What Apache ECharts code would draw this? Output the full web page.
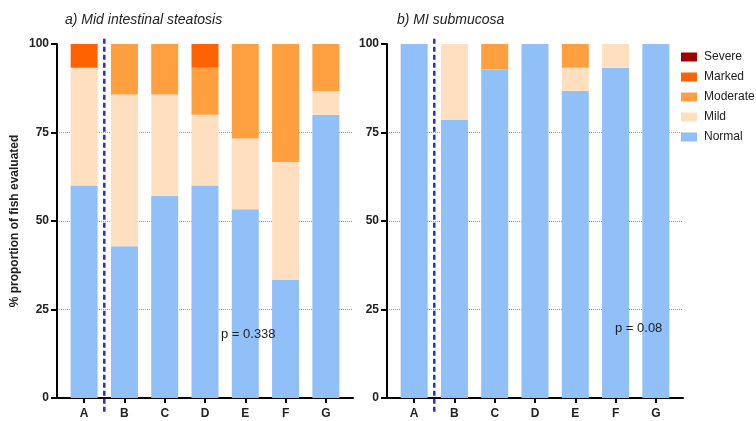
<!DOCTYPE html>
<html>
<head>
<meta charset="utf-8">
<script src="https://cdn.jsdelivr.net/npm/echarts@6/dist/echarts.min.js"></script>
<style>
  html, body { margin: 0; padding: 0; background: #fff; }
  #chart { width: 756px; height: 421px; }
</style>
</head>
<body>
<div id="chart"></div>
<script>
// categories (groups) and score levels
var groups = ['A', 'B', 'C', 'D', 'E', 'F', 'G'];
var levels = ['Normal', 'Mild', 'Moderate', 'Marked', 'Severe'];
var legendOrder = ['Severe', 'Marked', 'Moderate', 'Mild', 'Normal'];
var yTicks = [0, 25, 50, 75, 100];

// a) Mid intestinal steatosis, % of fish per level
var steatNormal   = [60, 42.9, 57.1, 60, 53.3, 33.3, 80];
var steatMild     = [33.3, 42.8, 28.6, 20, 20, 33.4, 6.7];
var steatModerate = [0, 14.3, 14.3, 13.3, 26.7, 33.3, 13.3];
var steatMarked   = [6.7, 0, 0, 6.7, 0, 0, 0];
var steatSevere   = [0, 0, 0, 0, 0, 0, 0];

// b) MI submucosa
var subNormal   = [100, 78.6, 92.9, 100, 86.7, 93.3, 100];
var subMild     = [0, 21.4, 0, 0, 6.6, 6.7, 0];
var subModerate = [0, 0, 7.1, 0, 6.7, 0, 0];
var subMarked   = [0, 0, 0, 0, 0, 0, 0];
var subSevere   = [0, 0, 0, 0, 0, 0, 0];

var pLeft = 'p = 0.338';
var pRight = 'p = 0.08';

// dashed separator between A and B (in category units)
var dividerAt = 0.5;
var dividerSpan = [-3.9, 102];

var colors = {
  Normal: '#91BFF8',
  Mild: '#FFDFC0',
  Moderate: '#FFA040',
  Marked: '#FF6200',
  Severe: '#A00000'
};

var textColor = '#222';
// axis frame is a bit wider than the bar bands
var pad = 0.174;

function frameX(gi) {
  return {
    gridIndex: gi, type: 'value', min: -0.5 - pad, max: groups.length - 0.5 + pad,
    axisLine: { show: true, onZero: false, lineStyle: { color: '#000', width: 2 } },
    axisTick: { show: false }, axisLabel: { show: false }, splitLine: { show: false }
  };
}
function barX(gi) {
  return {
    gridIndex: gi, type: 'category', data: groups,
    axisLine: { show: false },
    axisTick: { show: true, alignWithLabel: true, length: 5, lineStyle: { color: '#000', width: 2 } },
    axisLabel: { color: textColor, fontWeight: 'bold', fontSize: 12, margin: 10, fontFamily: 'Liberation Sans' }
  };
}
function frameY(gi, withName) {
  return {
    gridIndex: gi, type: 'value', min: yTicks[0], max: yTicks[yTicks.length - 1], interval: yTicks[1] - yTicks[0],
    name: withName ? '% proportion of fish evaluated' : '',
    nameLocation: 'middle', nameGap: 36,
    nameTextStyle: { color: textColor, fontWeight: 'bold', fontSize: 12, fontFamily: 'Liberation Sans' },
    axisLine: { show: true, onZero: false, lineStyle: { color: '#000', width: 2 } },
    axisTick: { show: true, length: 6, lineStyle: { color: '#000', width: 2 } },
    axisLabel: { color: textColor, fontWeight: 'bold', fontSize: 12, margin: 8, fontFamily: 'Liberation Sans' },
    splitLine: { show: true, showMaxLine: false, lineStyle: { color: '#999', type: 'dotted', width: 1 } }
  };
}
function barY(gi) {
  return { gridIndex: gi, type: 'value', min: 0, max: 100, show: false, splitLine: { show: false } };
}

function stack(name, values, axisIdx, stackId) {
  return {
    name: name, type: 'bar', stack: stackId, data: values,
    xAxisIndex: axisIdx, yAxisIndex: axisIdx, barWidth: 27,
    itemStyle: { color: colors[name] }, silent: true
  };
}
function divider(axisIdx) {
  return {
    name: 'divider', type: 'line', xAxisIndex: axisIdx, yAxisIndex: axisIdx,
    data: [[dividerAt, dividerSpan[0]], [dividerAt, dividerSpan[1]]],
    symbol: 'none', clip: false, silent: true,
    lineStyle: { color: '#2B2BD6', width: 2.5, type: [5, 3] }
  };
}

var steat = [steatNormal, steatMild, steatModerate, steatMarked, steatSevere];
var sub = [subNormal, subMild, subModerate, subMarked, subSevere];

var series = [];
levels.forEach(function (lv, i) { series.push(stack(lv, steat[i], 1, 'a')); });
levels.forEach(function (lv, i) { series.push(stack(lv, sub[i], 3, 'b')); });
series.push(divider(0));
series.push(divider(2));

var chart = echarts.init(document.getElementById('chart'));
chart.setOption({
  animation: false,
  backgroundColor: '#fff',
  title: [
    { text: 'a) Mid intestinal steatosis', left: 60, top: 8,
      textStyle: { fontStyle: 'italic', fontWeight: 'normal', fontSize: 14, color: textColor, fontFamily: 'Liberation Sans' } },
    { text: 'b) MI submucosa', left: 392, top: 8,
      textStyle: { fontStyle: 'italic', fontWeight: 'normal', fontSize: 14, color: textColor, fontFamily: 'Liberation Sans' } },
    { text: pLeft, left: 216, top: 323,
      textStyle: { fontWeight: 'normal', fontSize: 13, color: textColor, fontFamily: 'Liberation Sans' } },
    { text: pRight, left: 610, top: 317,
      textStyle: { fontWeight: 'normal', fontSize: 13, color: textColor, fontFamily: 'Liberation Sans' } }
  ],
  legend: {
    data: legendOrder, orient: 'vertical', left: 676, top: 45,
    itemWidth: 16, itemHeight: 9, itemGap: 6, icon: 'rect',
    textStyle: { color: textColor, fontSize: 12, lineHeight: 14, padding: [0, 0, 0, 2], fontFamily: 'Liberation Sans' }
  },
  grid: [
    { left: 57, right: 403, top: 44, bottom: 23 },
    { left: 64, right: 410, top: 44, bottom: 23 },
    { left: 387, right: 73, top: 44, bottom: 23 },
    { left: 394, right: 80, top: 44, bottom: 23 }
  ],
  xAxis: [frameX(0), barX(1), frameX(2), barX(3)],
  yAxis: [frameY(0, true), barY(1), frameY(2, false), barY(3)],
  series: series
});
</script>
</body>
</html>
